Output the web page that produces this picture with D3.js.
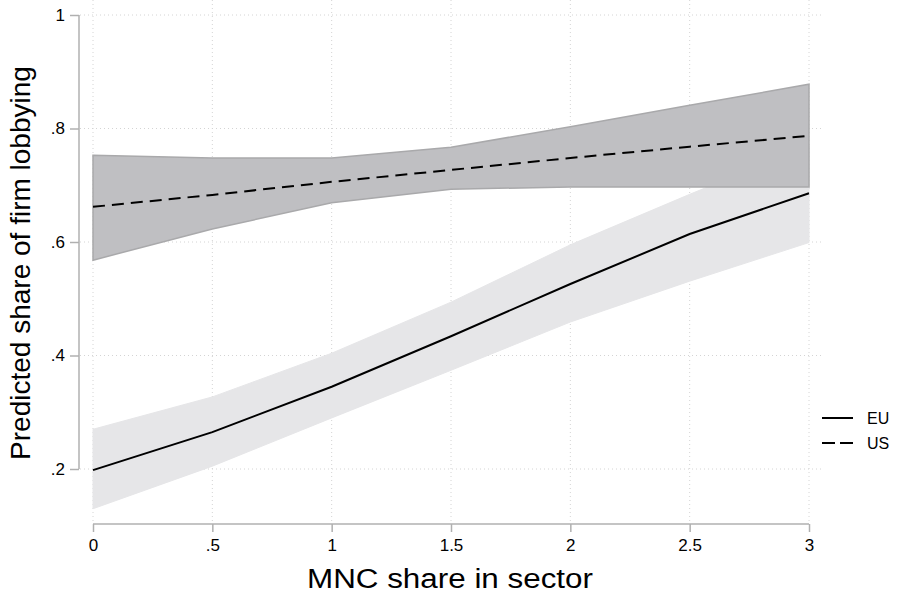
<!DOCTYPE html>
<html>
<head>
<meta charset="utf-8">
<script src="https://cdnjs.cloudflare.com/ajax/libs/d3/7.8.5/d3.min.js"></script>
<style>
  body { margin: 0; background: #fff; }
  text { font-family: "Liberation Sans", Arial, sans-serif; }
</style>
</head>
<body>
<div id="chart"></div>
<script>
// Data
const xValues = [0, 0.5, 1, 1.5, 2, 2.5, 3];
const euMid   = [0.198, 0.265, 0.345, 0.434, 0.526, 0.614, 0.686];
const euLow   = [0.130, 0.205, 0.290, 0.374, 0.459, 0.531, 0.599];
const euHigh  = [0.270, 0.327, 0.404, 0.494, 0.595, 0.684, 0.770];
const usMid   = [0.662, 0.683, 0.706, 0.727, 0.748, 0.768, 0.787];
const usLow   = [0.568, 0.623, 0.669, 0.693, 0.697, 0.697, 0.697];
const usHigh  = [0.753, 0.748, 0.748, 0.767, 0.803, 0.841, 0.878];

const xTicks = [0, 0.5, 1, 1.5, 2, 2.5, 3];
const yTicks = [0.2, 0.4, 0.6, 0.8, 1];
const seriesNames = ["EU", "US"];

const width = 900, height = 598;

const svg = d3.select("#chart").append("svg")
    .attr("width", width)
    .attr("height", height);

const x = d3.scaleLinear().domain([0, 3]).range([93, 809]);
const y = d3.scaleLinear().domain([0.2, 1]).range([469, 15]);

const fmt = d => d === 0 ? "0" : (d === 1 ? "1" : String(d).replace(/^0/, ""));

// Gridlines (dotted)
const grid = svg.append("g");
grid.selectAll("line.h")
    .data(yTicks)
    .join("line")
    .attr("x1", 80).attr("x2", 822)
    .attr("y1", d => y(d)).attr("y2", d => y(d))
    .attr("stroke", "#d4d4d4")
    .attr("stroke-dasharray", "1,3");
grid.selectAll("line.v")
    .data(xTicks)
    .join("line")
    .attr("x1", d => x(d)).attr("x2", d => x(d))
    .attr("y1", 0).attr("y2", 524)
    .attr("stroke", "#d4d4d4")
    .attr("stroke-dasharray", "1,3");

const idx = d3.range(xValues.length);

// Bands: EU first, US on top
const euArea = d3.area()
    .x(i => x(xValues[i]))
    .y0(i => y(euLow[i]))
    .y1(i => y(euHigh[i]));
svg.append("path")
    .datum(idx)
    .attr("fill", "#e6e6e8")
    .attr("stroke", "#e6e6e8")
    .attr("stroke-width", 1)
    .attr("d", euArea);

const usArea = d3.area()
    .x(i => x(xValues[i]))
    .y0(i => y(usLow[i]))
    .y1(i => y(usHigh[i]));
svg.append("path")
    .datum(idx)
    .attr("fill", "#bfbfc2")
    .attr("stroke", "#a9a9ab")
    .attr("stroke-width", 1.5)
    .attr("d", usArea);

// Lines
const euLine = d3.line().x(i => x(xValues[i])).y(i => y(euMid[i]));
const usLine = d3.line().x(i => x(xValues[i])).y(i => y(usMid[i]));

svg.append("path")
    .datum(idx)
    .attr("fill", "none")
    .attr("stroke", "#000")
    .attr("stroke-width", 2)
    .attr("d", euLine);

svg.append("path")
    .datum(idx)
    .attr("fill", "none")
    .attr("stroke", "#000")
    .attr("stroke-width", 2)
    .attr("stroke-dasharray", "12,7")
    .attr("d", usLine);

// Axes
const yAxis = svg.append("g")
    .attr("transform", "translate(79,0)")
    .call(d3.axisLeft(y).tickValues(yTicks).tickFormat(fmt).tickSize(9).tickPadding(5));
yAxis.select(".domain").attr("d", `M-0,${y(0.2)}V${y(1)}`);

const xAxis = svg.append("g")
    .attr("transform", "translate(0,524)")
    .call(d3.axisBottom(x).tickValues(xTicks).tickFormat(fmt).tickSize(8).tickPadding(7));
xAxis.select(".domain").attr("d", `M${x(0)},0H${x(3)}`);

[yAxis, xAxis].forEach(a => {
    a.select(".domain").attr("stroke", "#b0b0b0").attr("stroke-width", 1.5);
    a.selectAll(".tick line").attr("stroke", "#b0b0b0").attr("stroke-width", 1.5);
    a.selectAll(".tick text")
        .attr("fill", "#000")
        .style("font-size", "17px")
        .style("font-family", "'Liberation Sans', Arial, sans-serif");
});

// Axis titles
svg.append("text")
    .attr("x", 450)
    .attr("y", 588)
    .attr("text-anchor", "middle")
    .attr("textLength", 286)
    .attr("lengthAdjust", "spacingAndGlyphs")
    .style("font-size", "27px")
    .text("MNC share in sector");

svg.append("text")
    .attr("transform", "rotate(-90)")
    .attr("x", -263)
    .attr("y", 29.5)
    .attr("text-anchor", "middle")
    .style("font-size", "28px")
    .text("Predicted share of firm lobbying");

// Legend
const legend = svg.append("g").attr("transform", "translate(822,418)");
seriesNames.forEach((name, i) => {
    legend.append("line")
        .attr("x1", 0).attr("x2", 31)
        .attr("y1", i * 25).attr("y2", i * 25)
        .attr("stroke", "#000")
        .attr("stroke-width", 2)
        .attr("stroke-dasharray", i === 1 ? "13,5" : null);
    legend.append("text")
        .attr("x", 45)
        .attr("y", i * 25 + 6)
        .style("font-size", "16px")
        .text(name);
});
</script>
</body>
</html>
